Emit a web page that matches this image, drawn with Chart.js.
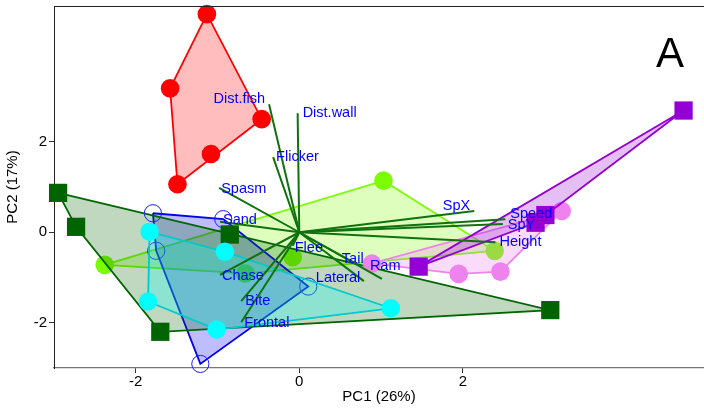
<!DOCTYPE html>
<html>
<head>
<meta charset="utf-8">
<script src="https://cdn.jsdelivr.net/npm/chart.js@4.4.0/dist/chart.umd.min.js"></script>
<style>
  html, body { margin: 0; padding: 0; background: #fff; }
  #wrap { width: 704px; height: 412px; }
</style>
</head>
<body>
<div id="wrap"><canvas id="pca" width="704" height="412"></canvas></div>
<script>
// ---- PCA scores, one pair of arrays per group ----
const redX = [-1.13, -1.58, -0.46, -1.08, -1.49];
const redY = [4.82, 3.18, 2.50, 1.73, 1.06];

const limeX = [1.03, -2.38, 2.39, -0.08, -0.66];
const limeY = [1.14, -0.72, -0.41, -0.55, -0.91];

const blueX = [-1.79, -0.93, -1.75, 0.11, -1.21];
const blueY = [0.42, 0.29, -0.41, -1.20, -2.91];

const dkgreenX = [-2.95, -2.73, -1.70, -0.85, 3.07];
const dkgreenY = [0.87, 0.12, -2.20, -0.05, -1.72];

const cyanX = [-1.83, -1.85, -1.01, -0.91, 1.12];
const cyanY = [0.01, -1.53, -2.15, -0.43, -1.68];

const violetX = [3.21, 2.46, 1.95, 0.89];
const violetY = [0.47, -0.87, -0.92, -0.69];

const purpleX = [4.70, 3.01, 2.89, 1.46];
const purpleY = [2.69, 0.38, 0.21, -0.76];

// ---- loadings ----
const loadNames = ['Dist.fish', 'Dist.wall', 'Flicker', 'Spasm', 'Sand', 'Flee', 'Chase', 'Bite',
                   'Frontal', 'Tail', 'Lateral', 'Ram', 'SpX', 'Speed', 'SpY', 'Height'];
const loadX = [-0.37, -0.02, -0.32, -0.98, -0.97, -0.08, -0.97, -0.71,
               -0.71, 1.01, 0.79, 0.68, 2.14, 2.52, 2.49, 2.40];
const loadY = [2.83, 2.63, 1.66, 0.98, 0.23, -0.30, -0.94, -1.52,
               -1.99, -1.03, -1.08, -0.68, 0.47, 0.29, 0.18, -0.22];

const xTicks = [-2, 0, 2];
const yTicks = [-2, 0, 2];

const FONT = '"Liberation Sans", Arial, Helvetica, sans-serif';

// label nudges in px from the arrow tip (default: right of tip)
const labelNudge = {
  'Dist.fish': { dx: -4, dy: -5, align: 'right' },
  'Dist.wall': { dx: 5, dy: 0 },
  'Spasm': { dx: 2, dy: 1 },
  'Sand': { dx: 3, dy: -2 },
  'Flee': { dx: 2, dy: 2 },
  'Chase': { dx: 2, dy: 1 },
  'Bite': { dx: 4, dy: 0 },
  'Frontal': { dx: 3, dy: 1 },
  'Tail': { dx: -40, dy: -20 },
  'Lateral': { dx: -48, dy: -3 },
  'Ram': { dx: 15, dy: 3 },
  'SpX': { dx: -4, dy: -5, align: 'right' },
  'Speed': { dx: 5, dy: -5 },
  'SpY': { dx: 5, dy: 1 },
  'Height': { dx: 4, dy: 0 }
};

function toPts(xs, ys) {
  return xs.map((x, i) => ({ x: x, y: ys[i] }));
}

// convex hull (monotone chain), returned closed
function hull(pts) {
  const p = pts.slice().sort((a, b) => a.x - b.x || a.y - b.y);
  const cross = (o, a, b) => (a.x - o.x) * (b.y - o.y) - (a.y - o.y) * (b.x - o.x);
  const lower = [], upper = [];
  for (const q of p) {
    while (lower.length >= 2 && cross(lower[lower.length - 2], lower[lower.length - 1], q) <= 0) lower.pop();
    lower.push(q);
  }
  for (let i = p.length - 1; i >= 0; i--) {
    const q = p[i];
    while (upper.length >= 2 && cross(upper[upper.length - 2], upper[upper.length - 1], q) <= 0) upper.pop();
    upper.push(q);
  }
  upper.pop(); lower.pop();
  const h = lower.concat(upper);
  h.push(h[0]);
  return h;
}

// drawing order = order of this list
const groups = [
  { pts: toPts(redX, redY), line: '#ff0000', fill: 'rgba(255,0,0,0.26)', point: '#ff0000', shape: 'circle' },
  { pts: toPts(limeX, limeY), line: '#7cfc00', fill: 'rgba(124,252,0,0.26)', point: '#7cfc00', shape: 'circle' },
  { pts: toPts(blueX, blueY), line: '#0000ee', fill: 'rgba(0,0,255,0.26)', point: null, shape: 'circle' },
  { pts: toPts(dkgreenX, dkgreenY), line: '#006400', fill: 'rgba(0,100,0,0.25)', point: '#006400', shape: 'rect' },
  { pts: toPts(cyanX, cyanY), line: '#00caca', fill: 'rgba(0,255,255,0.26)', point: '#00ffff', shape: 'circle' },
  { pts: toPts(violetX, violetY), line: '#ee82ee', fill: 'rgba(238,130,238,0.28)', point: '#ee82ee', shape: 'circle' },
  { pts: toPts(purpleX, purpleY), line: '#9400d3', fill: 'rgba(148,0,211,0.25)', point: '#9400d3', shape: 'rect' }
];

const datasets = [];
let seq = 0;
groups.forEach(g => {
  datasets.push({
    data: hull(g.pts),
    showLine: true,
    borderColor: g.line,
    borderWidth: 1.8,
    pointRadius: 0,
    tension: 0,
    clip: false,
    hullFill: g.fill,
    order: 1000 - (seq++)
  });
  datasets.push({
    data: g.pts,
    showLine: false,
    pointStyle: g.shape,
    pointRadius: g.shape === 'rect' ? 12.9 : (g.point ? 9.3 : 8.6),
    pointBackgroundColor: g.point ? g.point : 'rgba(0,0,0,0)',
    pointBorderColor: g.point ? g.point : '#1a1aff',
    pointBorderWidth: g.point ? 0 : 1,
    clip: false,
    order: 1000 - (seq++)
  });
});

loadNames.forEach((n, i) => {
  datasets.push({
    data: [{ x: 0, y: 0 }, { x: loadX[i], y: loadY[i] }],
    showLine: true,
    borderColor: '#0f720f',
    borderWidth: 2,
    pointRadius: 0,
    clip: false,
    order: 1000 - (seq++)
  });
});

const hullFillPlugin = {
  id: 'hullFill',
  beforeDatasetDraw(chart, args) {
    const ds = chart.data.datasets[args.index];
    if (!ds.hullFill) return;
    const ctx = chart.ctx;
    const pts = args.meta.data;
    ctx.save();
    ctx.beginPath();
    pts.forEach((p, i) => { if (i) ctx.lineTo(p.x, p.y); else ctx.moveTo(p.x, p.y); });
    ctx.closePath();
    ctx.fillStyle = ds.hullFill;
    ctx.fill();
    ctx.restore();
  }
};

const labelPlugin = {
  id: 'loadLabels',
  afterDraw(chart) {
    const ctx = chart.ctx;
    const xs = chart.scales.x, ys = chart.scales.y;
    const area = chart.chartArea;
    ctx.save();
    // top frame line
    ctx.strokeStyle = '#222';
    ctx.lineWidth = 1;
    ctx.beginPath();
    ctx.moveTo(area.left, area.top + 0.5);
    ctx.lineTo(area.right, area.top + 0.5);
    ctx.stroke();

    ctx.font = '14.5px ' + FONT;
    ctx.fillStyle = '#0000ff';
    ctx.textBaseline = 'middle';
    loadNames.forEach((n, i) => {
      const nd = labelNudge[n] || { dx: 3, dy: 0 };
      ctx.textAlign = nd.align || 'left';
      const px = xs.getPixelForValue(loadX[i]) + nd.dx;
      const py = ys.getPixelForValue(loadY[i]) + nd.dy;
      ctx.fillText(n, px, py);
    });

    ctx.fillStyle = '#000';
    ctx.font = '42px ' + FONT;
    ctx.textAlign = 'center';
    ctx.textBaseline = 'alphabetic';
    ctx.fillText('A', 670, 67);
    ctx.restore();
  }
};

new Chart(document.getElementById('pca'), {
  type: 'scatter',
  data: { datasets: datasets },
  options: {
    responsive: false,
    animation: false,
    layout: { autoPadding: false, padding: { top: 6, right: 0, left: 0, bottom: 0 } },
    plugins: { legend: { display: false }, tooltip: { enabled: false } },
    scales: {
      x: {
        type: 'linear',
        min: -3,
        max: 4.95,
        afterBuildTicks: s => { s.ticks = xTicks.map(v => ({ value: v })); },
        afterFit: s => { s.height = 44; s.paddingLeft = 0; s.paddingRight = 0; },
        grid: { drawOnChartArea: false, drawTicks: true, tickLength: 5, color: '#333' },
        border: { display: true, color: '#777', width: 1.2 },
        ticks: { color: '#000', padding: 0, font: { family: FONT, size: 15 } },
        title: { display: true, text: 'PC1 (26%)', color: '#000', font: { family: FONT, size: 15 }, padding: { top: 0, bottom: 6 } }
      },
      y: {
        type: 'linear',
        min: -3,
        max: 5,
        afterBuildTicks: s => { s.ticks = yTicks.map(v => ({ value: v })); },
        afterFit: s => { s.width = 54; s.paddingTop = 0; s.paddingBottom = 0; },
        grid: { drawOnChartArea: false, drawTicks: true, tickLength: 5, color: '#333' },
        border: { display: true, color: '#222', width: 1 },
        ticks: { color: '#000', padding: 2, font: { family: FONT, size: 15 } },
        title: { display: true, text: 'PC2 (17%)', color: '#000', font: { family: FONT, size: 15 }, padding: { top: 4, bottom: 0 } }
      }
    }
  },
  plugins: [hullFillPlugin, labelPlugin]
});
</script>
</body>
</html>
